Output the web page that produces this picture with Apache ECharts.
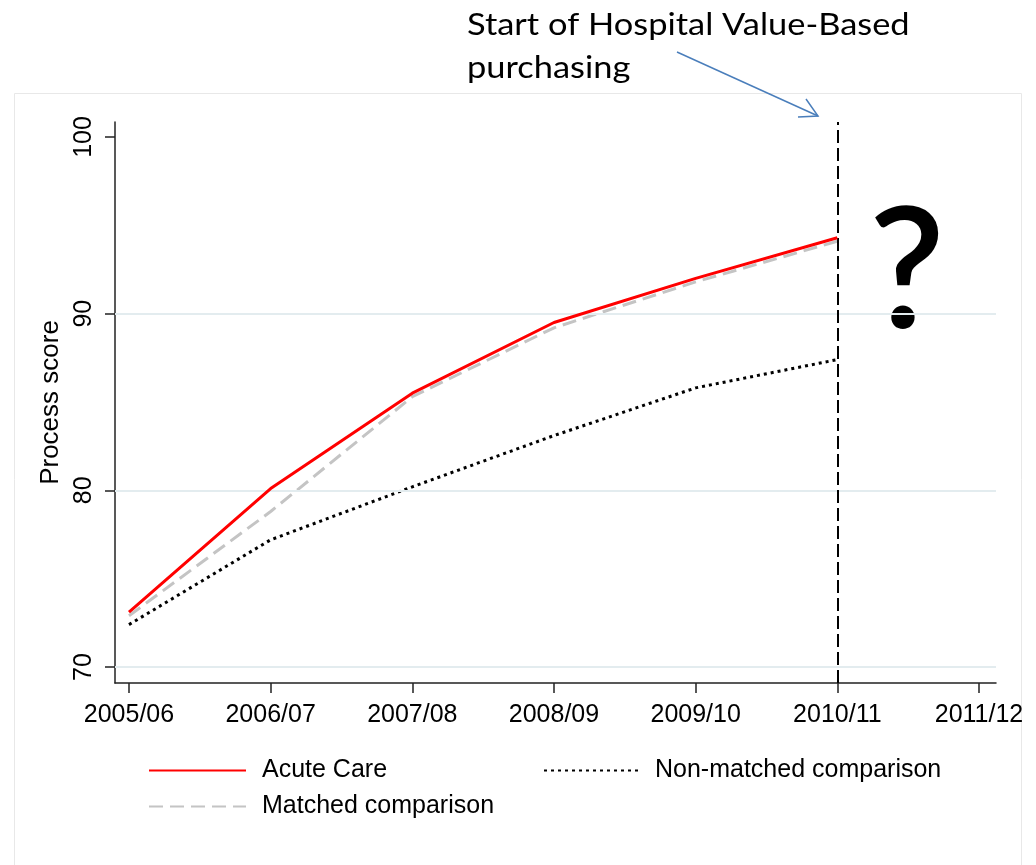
<!DOCTYPE html>
<html>
<head>
<meta charset="utf-8">
<title>Process score</title>
<script src="https://cdn.jsdelivr.net/npm/echarts@6/dist/echarts.min.js"></script>
<style>
  html, body { margin: 0; padding: 0; background: #fff; }
  #chart { width: 1036px; height: 865px; }
</style>
</head>
<body>
<div id="chart"></div>
<script>
// data
const years = ['2005/06', '2006/07', '2007/08', '2008/09', '2009/10', '2010/11', '2011/12'];
const acuteCare = [73.1, 80.1, 85.5, 89.5, 92.0, 94.3];
const matched = [72.9, 78.8, 85.3, 89.2, 91.8, 94.1];
const nonMatched = [72.4, 77.2, 80.2, 83.1, 85.8, 87.4];
const yTicks = [70, 80, 90, 100];
const gridValues = [70, 80, 90];
const hvbpStart = 5; // index of 2010/11

const FONT = 'Liberation Sans';

// pair each value with its category index
const toPoints = arr => arr.map((v, i) => [i, v]);

const chart = echarts.init(document.getElementById('chart'));

const legendBase = {
  orient: 'vertical', top: 758, padding: 0,
  itemHeight: 14, itemGap: 11,
  itemStyle: { opacity: 0 }, // hide the symbol dot, keep the line
  textStyle: { fontFamily: FONT, fontSize: 25, color: '#000', lineHeight: 25, padding: [0, 0, 0, 11] }
};

chart.setOption({
  animation: false,
  backgroundColor: '#fff',
  grid: { left: 115, right: 40, top: 122, bottom: 182 },
  xAxis: {
    type: 'value',
    min: -0.0987,
    max: 6.12,
    axisLine: { show: true, onZero: false, lineStyle: { color: '#222', width: 1.5 } },
    axisTick: {
      show: true, length: 10, customValues: years.map((y, i) => i),
      lineStyle: { color: '#222', width: 1.5 }
    },
    axisLabel: {
      customValues: years.map((y, i) => i),
      formatter: v => years[Math.round(v)],
      fontFamily: FONT, fontSize: 25, color: '#000', margin: 20
    },
    splitLine: { show: false }
  },
  yAxis: {
    type: 'value',
    min: 69.094,
    max: 100.85,
    name: 'Process score',
    nameLocation: 'middle',
    nameGap: 30,
    nameTextStyle: { fontFamily: FONT, fontSize: 26, color: '#000' },
    axisLine: { show: true, onZero: false, lineStyle: { color: '#222', width: 1.5 } },
    axisTick: {
      show: true, length: 10, customValues: yTicks,
      lineStyle: { color: '#222', width: 1.5 }
    },
    axisLabel: {
      customValues: yTicks, rotate: 90,
      fontFamily: FONT, fontSize: 25, color: '#000', margin: 18
    },
    splitLine: { show: false }
  },
  legend: [
    Object.assign({}, legendBase, {
      data: ['Acute Care', 'Matched comparison'],
      left: 148, itemWidth: 97
    }),
    Object.assign({}, legendBase, {
      data: ['Non-matched comparison'],
      left: 543, itemWidth: 95
    })
  ],
  series: [
    {
      // grid lines, drawn behind everything
      type: 'line', name: 'grid', data: [], silent: true, z: 1,
      markLine: {
        silent: true, symbol: ['none', 'none'], label: { show: false },
        lineStyle: { color: '#e3ecef', width: 2, type: 'solid' },
        data: gridValues.map(v => ({ yAxis: v }))
      }
    },
    {
      name: 'Acute Care', type: 'line', data: toPoints(acuteCare),
      symbol: 'none', z: 5,
      lineStyle: { color: '#ff0000', width: 3 }, itemStyle: { color: '#ff0000' }
    },
    {
      name: 'Matched comparison', type: 'line', data: toPoints(matched),
      symbol: 'none', z: 4,
      lineStyle: { color: '#c4c4c4', width: 3, type: [14, 7] }, itemStyle: { color: '#c4c4c4' }
    },
    {
      name: 'Non-matched comparison', type: 'line', data: toPoints(nonMatched),
      symbol: 'none', z: 4,
      lineStyle: { color: '#000', width: 3, type: [3, 4] }, itemStyle: { color: '#000' }
    },
    {
      // start of value-based purchasing
      type: 'line', name: 'hvbp', data: [], silent: true, z: 6,
      markLine: {
        silent: true, symbol: ['none', 'none'], label: { show: false },
        lineStyle: { color: '#000', width: 2, type: [13, 5] },
        data: [{ xAxis: hvbpStart }]
      }
    }
  ],
  graphic: [
    {
      type: 'rect', z: 0, silent: true,
      shape: { x: 14.5, y: 93.5, width: 1007, height: 800 },
      style: { fill: null, stroke: '#e8e8e8', lineWidth: 1 }
    },
    {
      type: 'text', x: 467, y: 3, scaleX: 1.11, silent: true,
      style: {
        text: 'Start of Hospital Value-Based\npurchasing',
        font: '31px Lato', lineHeight: 43, fill: '#000',
        verticalAlign: 'top'
      }
    },
    {
      type: 'line', silent: true,
      shape: { x1: 677, y1: 52, x2: 818, y2: 116 },
      style: { stroke: '#4a7ebb', lineWidth: 1.5 }
    },
    {
      type: 'polyline', silent: true,
      shape: { points: [[806, 99], [818, 116], [798, 117]] },
      style: { stroke: '#4a7ebb', lineWidth: 1.5, fill: null }
    },
    {
      type: 'text', x: 907, y: 274, silent: true,
      style: {
        text: '?', font: '600 168px Lato', fill: '#000',
        align: 'center', verticalAlign: 'middle'
      }
    }
  ]
});
</script>
</body>
</html>
